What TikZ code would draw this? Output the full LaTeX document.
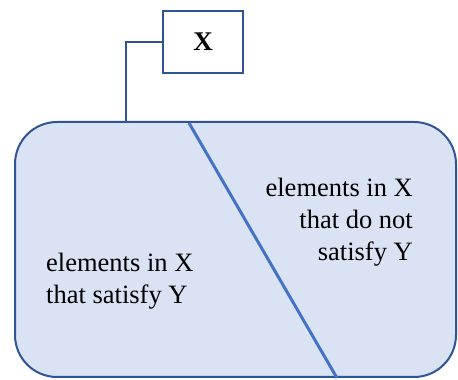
\documentclass[tikz,border=0pt]{standalone}
\usepackage{fontspec}
\setmainfont{Liberation Serif}
\definecolor{bordc}{HTML}{2F5597}
\definecolor{divc}{HTML}{4472C4}
\definecolor{fillc}{HTML}{DAE3F3}
\begin{document}
\begin{tikzpicture}[x=1pt,y=1pt,
  frame/.style={draw=bordc,line width=2pt},
  lbl/.style={inner sep=0pt,font=\fontsize{26.5}{32}\selectfont}]
\useasboundingbox (0,0) rectangle (458,380);
\node[frame,fill=fillc,rounded corners=42pt,minimum width=441pt,minimum height=255pt,anchor=south west,inner sep=0pt] (big) at (14,2) {};
\coordinate (dt) at (189,257);
\coordinate (db) at (337,2);
\draw[divc,line width=3pt] (dt) -- (db);
\node[frame,fill=white,minimum width=80pt,minimum height=62pt,inner sep=0pt,font=\fontsize{27}{32}\selectfont\bfseries] (x) at (203,338) {X};
\coordinate (c) at (126,257);
\draw[bordc,line width=2pt] (x.west) -| (c);
\node[lbl,align=left,anchor=west] (l) at (46,99) {elements in X\\that satisfy Y};
\node[lbl,align=right,anchor=east] (r) at (413,158) {elements in X\\that do not\\satisfy Y};
\end{tikzpicture}
\end{document}
